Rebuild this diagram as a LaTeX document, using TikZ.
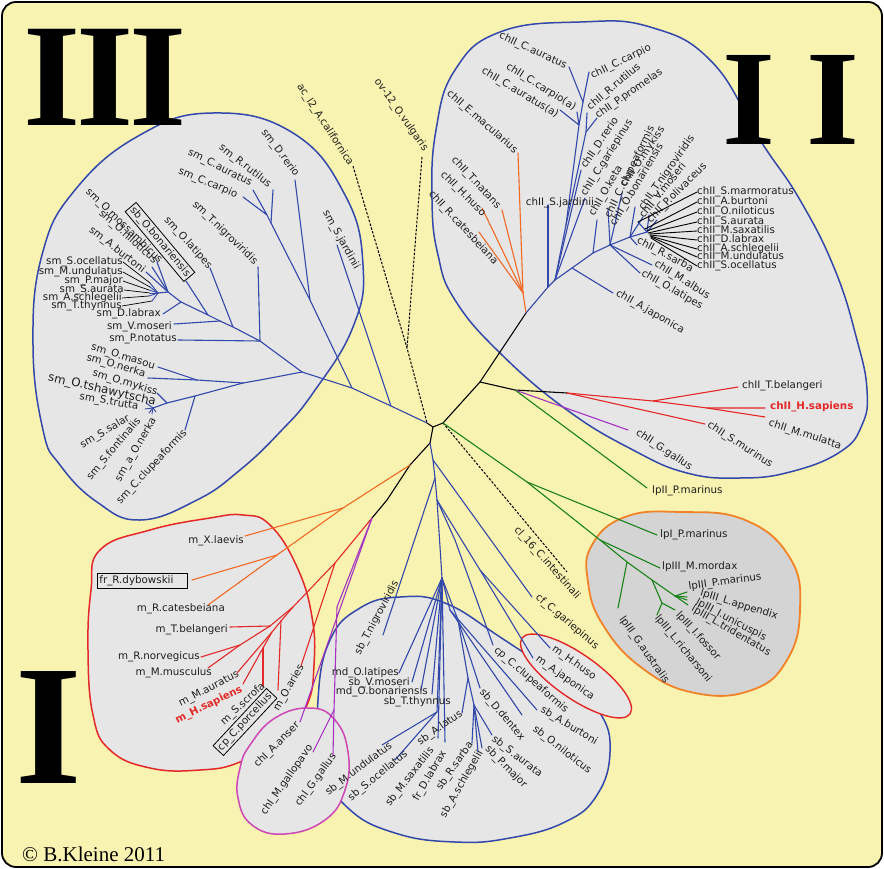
\documentclass[tikz,border=0pt]{standalone}
\usepackage{fontspec}
\setmainfont{DejaVu Sans}
\newfontfamily\numfont{Liberation Serif}
\usetikzlibrary{shapes.geometric}
\definecolor{bgy}{RGB}{249,243,177}
\definecolor{clg}{RGB}{230,230,230}
\definecolor{lpg}{RGB}{212,212,212}
\definecolor{tblue}{RGB}{50,72,170}
\definecolor{tora}{RGB}{242,105,35}
\definecolor{tred}{RGB}{228,40,40}
\definecolor{tpur}{RGB}{165,50,195}
\definecolor{tmag}{RGB}{205,70,180}
\definecolor{tgrn}{RGB}{25,130,25}
\definecolor{ocl}{RGB}{242,130,40}
\definecolor{txtc}{RGB}{30,30,30}
\newcommand\lbf{\fontsize{10.3}{12}\selectfont}
\begin{document}
\begin{tikzpicture}[x=1pt,y=-1pt,
 lb/.style={font=\lbf, text=txtc, inner sep=0pt},
 bx/.style={font=\lbf, text=txtc, draw=black, line width=0.8pt, inner sep=2pt},
 ln/.style={line width=1.1pt, line cap=round, line join=round},
 lnB/.style={ln, draw=tblue},
 lnK/.style={ln, draw=black},
 lnO/.style={ln, draw=tora},
 lnR/.style={ln, draw=tred},
 lnP/.style={ln, draw=tpur},
 lnG/.style={ln, draw=tgrn},
 lnD/.style={draw=black, line width=1pt, dash pattern=on 2.5pt off 1.5pt},
 lnL/.style={draw=black, line width=0.7pt},
 hull/.style={line width=1.5pt, fill=clg},
 numf/.style={text=black, inner sep=0pt}
]
\useasboundingbox (0,0) rectangle (884,869);
\fill[white] (0,0) rectangle (884,869);
\draw[fill=bgy, line width=1.8pt, rounded corners=14pt] (2,2) rectangle (882,867);

% ---------------- hulls
\draw[hull, draw=tblue] plot[smooth cycle, tension=0.75] coordinates {(213,113) (293,133) (345,195) (363,265) (353,327) (313,393) (280,432) (240,470) (197,500) (140,520) (97,502) (60,465) (43,430) (33,345) (42,255) (75,190) (140,135)};
\draw[hull, draw=tblue] plot[smooth cycle, tension=0.75] coordinates {(432,200) (436,130) (455,70) (500,32) (580,22) (650,27) (712,62) (760,140) (800,200) (835,270) (857,340) (867,390) (862,425) (840,452) (790,472) (740,478) (687,473) (633,450) (567,410) (500,353) (455,300) (438,255)};
\draw[hull, draw=tred] plot[smooth cycle, tension=0.75] coordinates {(100,550) (150,530) (210,518) (243,515) (270,525) (297,567) (312,617) (314,665) (307,705) (283,737) (240,762) (200,770) (150,768) (110,750) (93,715) (88,650) (91,590)};
\draw[hull, draw=tblue] plot[smooth cycle, tension=0.75] coordinates {(330,640) (360,608) (400,597) (445,603) (500,637) (567,683) (600,713) (610,752) (597,795) (565,822) (510,838) (455,842) (395,833) (348,808) (322,765) (318,700)};
\draw[hull, draw=tmag] plot[smooth cycle, tension=0.75] coordinates {(250,745) (275,718) (310,708) (335,720) (348,752) (345,790) (325,820) (285,834) (252,825) (238,798) (240,768)};
\draw[hull, draw=ocl, fill=lpg, line width=1.8pt] plot[smooth cycle, tension=0.75] coordinates {(592,545) (625,517) (680,512) (745,520) (790,558) (800,610) (787,660) (752,690) (695,693) (642,668) (603,625) (588,582)};
\node[draw=tred, fill=clg, line width=1.4pt, ellipse, minimum width=132pt, minimum height=44pt, inner sep=0pt, rotate=-35] (hjE) at (576,676) {};

% ---------------- numerals and credit
\node[numf, font=\numfont\bfseries\fontsize{147}{147}\selectfont] (n3a) at (52,77) {I};
\node[numf, font=\numfont\bfseries\fontsize{147}{147}\selectfont] (n3b) at (105,77) {I};
\node[numf, font=\numfont\bfseries\fontsize{147}{147}\selectfont] (n3c) at (158,77) {I};
\node[numf, font=\numfont\bfseries\fontsize{136}{136}\selectfont] (n2a) at (749,100) {I};
\node[numf, font=\numfont\bfseries\fontsize{136}{136}\selectfont] (n2b) at (833,100) {I};
\node[numf, font=\numfont\bfseries\fontsize{171}{171}\selectfont] (n1a) at (49,728) {I};
\node[font=\numfont\fontsize{21}{21}\selectfont, anchor=west, inner sep=0pt] (cred) at (22,854) {© B.Kleine 2011};

% ---------------- coordinates: core
\coordinate (root) at (433,427);
\coordinate (rB) at (430,443);
\coordinate (rG) at (443,423);
\coordinate (rK) at (480,382);
\coordinate (J3) at (427,423);

% cluster III
\coordinate (a1) at (391,406); \coordinate (a2) at (352,388); \coordinate (a3) at (302,372);
\coordinate (c1) at (310,300); \coordinate (c2) at (271,223); \coordinate (c3) at (267,215);
\coordinate (tDre) at (295,180); \coordinate (tRru) at (273,190); \coordinate (tCau) at (253,190); \coordinate (tCca) at (243,197);
\coordinate (tSja) at (337,245);
\coordinate (p0) at (158,293); \coordinate (p1) at (168,292); \coordinate (p2) at (181,302); \coordinate (p3) at (208,315);
\coordinate (p4) at (220,321); \coordinate (p5) at (233,327); \coordinate (p6) at (260,341);
\coordinate (tTni) at (258,267); \coordinate (tPno) at (178,340); \coordinate (tOla) at (210,268); \coordinate (tVmo) at (174,324);
\coordinate (tBon) at (186,281); \coordinate (tDla) at (163,314);
\coordinate (tOmo) at (157,262); \coordinate (tOni) at (152,267); \coordinate (tAbu) at (146,272);
\coordinate (tS1) at (150,283); \coordinate (tS2) at (150,287); \coordinate (tS3) at (149,290);
\coordinate (tS4) at (150,293); \coordinate (tS5) at (149,296); \coordinate (tS6) at (152,301);
\coordinate (sJ) at (260,380); \coordinate (sj1) at (243,383); \coordinate (jmn) at (197,380);
\coordinate (tMas) at (158,367); \coordinate (tNer) at (148,378);
\coordinate (scl) at (195,396); \coordinate (smy) at (167,403); \coordinate (str) at (153,408);
\coordinate (tClu) at (185,430); \coordinate (tMyk) at (157,393);
\coordinate (tTsh) at (146,403); \coordinate (tTru) at (145,409); \coordinate (tSal) at (149,413); \coordinate (tFon) at (152,414); \coordinate (tAne) at (156,412);
\coordinate (tAc) at (353,166); \coordinate (tOv) at (422,157); \coordinate (dj) at (407,348);

% cluster II
\coordinate (o0) at (526,313); \coordinate (oJ) at (523,293); \coordinate (sJ2) at (548,287); \coordinate (C0) at (555,280);
\coordinate (tEma) at (518,153); \coordinate (tTna) at (502,210); \coordinate (tHhu) at (482,208); \coordinate (tRca) at (479,232);
\coordinate (tSj2) at (548,205);
\coordinate (Cm) at (566,225); \coordinate (Cc) at (579,125); \coordinate (Jcc) at (583,102);
\coordinate (tCau2) at (569,67); \coordinate (tCca2) at (589,72); \coordinate (tCaua) at (560,110); \coordinate (tCcaa) at (577,112);
\coordinate (Jrp) at (586,132); \coordinate (tRru2) at (587,113); \coordinate (tPpr) at (597,118);
\coordinate (tDre2) at (581,170); \coordinate (tCga) at (585,198);
\coordinate (K1) at (572,268); \coordinate (K2) at (593,253); \coordinate (K3) at (610,245); \coordinate (K4) at (630,237); \coordinate (F) at (647,232);
\coordinate (tAja) at (613,293); \coordinate (tOke) at (597,220); \coordinate (tCcl) at (608,208); \coordinate (tOmy) at (622,193);
\coordinate (tOla2) at (640,273); \coordinate (tMal) at (652,265);
\coordinate (tObo) at (635,207); \coordinate (tTni2) at (643,217); \coordinate (tRsa) at (637,245);
\coordinate (tVmo2) at (649,215); \coordinate (tPol) at (657,220); \coordinate (fb1) at (638,222);
\coordinate (fb2) at (645,229); \coordinate (fb3) at (647,231); \coordinate (fb4) at (648,233); \coordinate (fb5) at (649,234);
\coordinate (fb6) at (650,235); \coordinate (fb7) at (650,236); \coordinate (fb8) at (651,237); \coordinate (fb9) at (651,238);
\coordinate (m0) at (567,393); \coordinate (gj) at (515,390); \coordinate (m1) at (653,401); \coordinate (m2) at (707,408);
\coordinate (tTbe) at (738,387); \coordinate (tHsa) at (765,408); \coordinate (tMmu) at (765,417); \coordinate (tSmu) at (705,424);
\coordinate (tGga) at (628,430); \coordinate (tLp2) at (647,488);

% cluster I
\coordinate (O0) at (410,465); \coordinate (bk1) at (387,500); \coordinate (PR) at (372,518);
\coordinate (O1) at (343,508); \coordinate (tXla) at (245,536); \coordinate (Odb) at (277,555); \coordinate (tRca2) at (208,605); \coordinate (tRdy) at (192,580);
\coordinate (R0) at (335,563); \coordinate (tOar) at (301,666); \coordinate (Ra) at (293,607); \coordinate (Rb) at (270,626); \coordinate (Rc) at (240,645);
\coordinate (tRno) at (201,657); \coordinate (tMmu2) at (208,668); \coordinate (tTbe2) at (230,627);
\coordinate (Rp) at (281,621); \coordinate (Rh) at (272,632); \coordinate (tMau) at (237,673); \coordinate (tCpo) at (278,690);
\coordinate (Rs) at (263,648); \coordinate (tHsa2) at (243,684); \coordinate (tSsc) at (263,686);
\coordinate (Pg) at (337,607); \coordinate (Pgg) at (334,710); \coordinate (tGga2) at (333,755); \coordinate (tMga) at (313,752); \coordinate (tAan) at (300,722);

% bottom cluster
\coordinate (N1) at (433,460); \coordinate (N2) at (435,478); \coordinate (N3) at (437,500);
\coordinate (Nhj) at (480,570); \coordinate (Ncl) at (455,540); \coordinate (Ns) at (442,578);
\coordinate (Nu) at (437,712); \coordinate (Nbn) at (450,610); \coordinate (Nsp) at (458,620); \coordinate (Nsp2) at (468,678); \coordinate (Nsp3) at (474,705);
\coordinate (tCga2) at (532,597); \coordinate (tTni3) at (383,635); \coordinate (tHhu2) at (550,648); \coordinate (tAja2) at (533,658); \coordinate (tCcl2) at (493,645);
\coordinate (tOla3) at (399,673); \coordinate (tVmo3) at (412,682); \coordinate (tObo3) at (421,690); \coordinate (tTth) at (432,694);
\coordinate (tMun) at (382,745); \coordinate (tSoc) at (395,760); \coordinate (tMsa) at (438,738); \coordinate (tDla2) at (445,742);
\coordinate (tAbu2) at (537,710); \coordinate (tOni2) at (522,715); \coordinate (tDde) at (480,688); \coordinate (tAla) at (462,713);
\coordinate (tRsa2) at (472,743); \coordinate (tAsc) at (478,752); \coordinate (tPma) at (482,748); \coordinate (tSau) at (492,735);

% lampreys
\coordinate (Lg) at (527,482); \coordinate (L0) at (600,540); \coordinate (L1) at (627,562); \coordinate (L2) at (652,580); \coordinate (L3) at (662,603); \coordinate (L4) at (675,596);
\coordinate (tLp1) at (657,535); \coordinate (tMmo) at (660,568); \coordinate (tGau) at (618,608); \coordinate (tLri) at (657,615); \coordinate (tIfo) at (675,610);
\coordinate (tPma2) at (687,592); \coordinate (tLap) at (687,597); \coordinate (tIun) at (687,600); \coordinate (tLtr) at (688,605);
\coordinate (tCin) at (567,572);

% ---------------- branches
\draw[lnK] (J3) -- (root) -- (rB) -- (O0) -- (bk1) -- (PR);
\draw[lnK] (root) -- (rG) -- (rK) -- (o0);
\draw[lnK] (rK) -- (gj) -- (m0);
\draw[lnD] (tAc) -- (dj) -- (J3);
\draw[lnD] (tOv) -- (dj);
\draw[lnD] (rG) -- (tCin);

\draw[lnB] (J3) -- (a1) -- (a2) -- (a3);
\draw[lnB] (tSja) -- (a1);
\draw[lnB] (a2) -- (c1) -- (c2) -- (c3);
\draw[lnB] (tDre) -- (c1);
\draw[lnB] (tRru) -- (c2);
\draw[lnB] (tCau) -- (c3) -- (tCca);
\draw[lnB] (a3) -- (p6) -- (p5) -- (p4) -- (p3) -- (p2) -- (p1) -- (p0);
\draw[lnB] (tTni) -- (p6) -- (tPno);
\draw[lnB] (tOla) -- (p5);
\draw[lnB] (tVmo) -- (p4);
\draw[lnB] (tBon) -- (p3);
\draw[lnB] (tDla) -- (p2);
\draw[lnB] (tOmo) -- (p1); \draw[lnB] (tOni) -- (p1); \draw[lnB] (tAbu) -- (p1);
\draw[lnB, line width=0.9pt] (tS1) -- (p0); \draw[lnB, line width=0.9pt] (tS2) -- (p0); \draw[lnB, line width=0.9pt] (tS3) -- (p0);
\draw[lnB, line width=0.9pt] (tS4) -- (p0); \draw[lnB, line width=0.9pt] (tS5) -- (p0); \draw[lnB, line width=0.9pt] (tS6) -- (p0);
\draw[lnB] (a3) -- (sJ) -- (sj1) -- (jmn) -- (tMas);
\draw[lnB] (jmn) -- (tNer);
\draw[lnB] (sj1) -- (scl) -- (smy) -- (str);
\draw[lnB] (scl) -- (tClu);
\draw[lnB] (smy) -- (tMyk);
\draw[lnB, line width=0.9pt] (str) -- (tTsh); \draw[lnB, line width=0.9pt] (str) -- (tTru); \draw[lnB, line width=0.9pt] (str) -- (tSal);
\draw[lnB, line width=0.9pt] (str) -- (tFon); \draw[lnB, line width=0.9pt] (str) -- (tAne);

\draw[lnO] (o0) -- (oJ);
\draw[lnO] (tEma) -- (oJ); \draw[lnO] (tTna) -- (oJ); \draw[lnO] (tHhu) -- (oJ); \draw[lnO] (tRca) -- (oJ);
\draw[lnB] (o0) -- (sJ2) -- (C0);
\draw[lnB] (tSj2) -- (sJ2);
\draw[lnB] (C0) -- (Cm) -- (Cc) -- (Jcc) -- (tCau2);
\draw[lnB] (Jcc) -- (tCca2);
\draw[lnB] (tCaua) -- (Cc) -- (tCcaa);
\draw[lnB] (Cm) -- (Jrp) -- (tRru2);
\draw[lnB] (Jrp) -- (tPpr);
\draw[lnB] (C0) -- (tDre2); \draw[lnB] (C0) -- (tCga);
\draw[lnB] (C0) -- (K1) -- (K2) -- (K3) -- (K4) -- (F);
\draw[lnB] (K1) -- (tAja);
\draw[lnB] (K2) -- (tOke);
\draw[lnB] (K3) -- (tCcl); \draw[lnB] (K3) -- (tOmy); \draw[lnB] (K3) -- (tOla2); \draw[lnB] (K3) -- (tMal);
\draw[lnB] (K4) -- (tObo); \draw[lnB] (K4) -- (tTni2); \draw[lnB] (K4) -- (tRsa);
\draw[lnB] (F) -- (tVmo2); \draw[lnB] (F) -- (tPol); \draw[lnB] (F) -- (fb1);
\draw[lnR] (m0) -- (m1) -- (tTbe);
\draw[lnR] (m1) -- (m2) -- (tHsa);
\draw[lnR] (m2) -- (tMmu);
\draw[lnR] (m0) -- (tSmu);
\draw[lnP] (gj) -- (tGga);
\draw[lnG] (gj) -- (tLp2);

\draw[lnO] (O0) -- (O1) -- (tXla);
\draw[lnO] (O1) -- (Odb) -- (tRca2);
\draw[lnO] (Odb) -- (tRdy);
\draw[lnR] (PR) -- (R0) -- (tOar);
\draw[lnR] (R0) -- (Ra) -- (Rb) -- (Rc) -- (tRno);
\draw[lnR] (Rc) -- (tMmu2);
\draw[lnR] (Rb) -- (tTbe2);
\draw[lnR] (Ra) -- (Rp) -- (Rh) -- (tMau);
\draw[lnR] (Rp) -- (tCpo);
\draw[lnR] (Rh) -- (Rs) -- (tHsa2);
\draw[lnR] (Rs) -- (tSsc);
\draw[lnP] (PR) -- (Pg) -- (Pgg) -- (tGga2);
\draw[lnP] (Pgg) -- (tMga);
\draw[lnP] (PR) -- (tAan);

\draw[lnB] (rB) -- (N1) -- (tCga2);
\draw[lnB] (N1) -- (N2) -- (N3);
\draw[lnB] (N2) -- (tTni3);
\draw[lnB] (N3) -- (Nhj) -- (tHhu2);
\draw[lnB] (Nhj) -- (tAja2);
\draw[lnB] (N3) -- (Ncl) -- (tCcl2);
\draw[lnB] (N3) -- (Ns);
\draw[lnB] (Ns) -- (tOla3); \draw[lnB] (Ns) -- (tVmo3); \draw[lnB] (Ns) -- (tObo3); \draw[lnB] (Ns) -- (tTth);
\draw[lnB] (Ns) -- (Nu) -- (tMun);
\draw[lnB] (Nu) -- (tSoc);
\draw[lnB] (Ns) -- (tMsa); \draw[lnB] (Ns) -- (tDla2);
\draw[lnB] (Ns) -- (Nbn) -- (tAbu2);
\draw[lnB] (Nbn) -- (tOni2);
\draw[lnB] (Ns) -- (Nsp) -- (tDde);
\draw[lnB] (Nsp) -- (Nsp2) -- (tAla);
\draw[lnB] (Nsp2) -- (Nsp3) -- (tRsa2);
\draw[lnB] (Nsp3) -- (tAsc); \draw[lnB] (Nsp3) -- (tPma); \draw[lnB] (Nsp3) -- (tSau);

\draw[lnG] (rG) -- (Lg) -- (tLp1);
\draw[lnG] (Lg) -- (L0) -- (tMmo);
\draw[lnG] (L0) -- (L1) -- (tGau);
\draw[lnG] (L1) -- (L2) -- (L3) -- (tLri);
\draw[lnG] (L3) -- (tIfo);
\draw[lnG] (L2) -- (L4) -- (tPma2);
\draw[lnG] (L4) -- (tLap); \draw[lnG] (L4) -- (tIun); \draw[lnG] (L4) -- (tLtr);

% ---------------- labels: cluster III
\node[lb, rotate=-53] (lDre) at (280,153) {sm\_D.rerio};
\node[lb, rotate=-38] (lRru) at (245,166) {sm\_R.rutilus};
\node[lb, rotate=-27] (lCau) at (220,168) {sm\_C.auratus};
\node[lb, rotate=-23] (lCca) at (208,183) {sm\_C.carpio};
\node[lb, rotate=-44] (lTni) at (225,233) {sm\_T.nigroviridis};
\node[lb, rotate=-61] (lSja) at (341,240) {sm\_S.jardinii};
\node[lb, rotate=-48] (lOla) at (188,243) {sm\_O.latipes};
\node[bx, rotate=-50] (lBon) at (160,242) {sb\_O.bonariensis};
\node[lb, rotate=-44] (lOmo) at (124,226) {sm\_O.mossambicus};
\node[lb, rotate=-42] (lOni) at (128,237) {sm\_O.niloticus};
\node[lb, rotate=-38] (lAbu) at (117,250) {sm\_A.burtoni};
\node[lb, anchor=east] (lS1) at (123,262) {sm\_S.ocellatus};
\node[lb, anchor=east] (lS2) at (123,272) {sm\_M.undulatus};
\node[lb, anchor=east] (lS3) at (123,281) {sm\_P.major};
\node[lb, anchor=east] (lS4) at (124,290) {sm\_S.aurata};
\node[lb, anchor=east] (lS5) at (122,298) {sm\_A.schlegelii};
\node[lb, anchor=east] (lS6) at (122,306) {sm\_T.thynnus};
\draw[lnL] (lS1.east) -- (tS1); \draw[lnL] (lS2.east) -- (tS2); \draw[lnL] (lS3.east) -- (tS3);
\draw[lnL] (lS4.east) -- (tS4); \draw[lnL] (lS5.east) -- (tS5); \draw[lnL] (lS6.east) -- (tS6);
\node[lb, anchor=east] (lDla) at (161,314) {sm\_D.labrax};
\node[lb, anchor=east] (lVmo) at (172,327) {sm\_V.moseri};
\node[lb, anchor=east] (lPno) at (177,339) {sm\_P.notatus};
\node[lb, rotate=-17] (lMas) at (123,357) {sm\_O.masou};
\node[lb, rotate=-16] (lNer) at (116,366) {sm\_O.nerka};
\node[lb, rotate=-17] (lMyk) at (125,383) {sm\_O.mykiss};
\node[lb, rotate=-13, font=\fontsize{11.8}{13}\selectfont] (lTsh) at (102,390) {sm\_O.tshawytscha};
\node[lb, rotate=-10] (lTru) at (109,402) {sm\_S.trutta};
\node[lb, rotate=31] (lSal) at (105,432) {sm\_S.salar};
\node[lb, rotate=50] (lFon) at (114,449) {sm\_S.fontinalis};
\node[lb, rotate=60] (lAne) at (136,450) {sm\_a\_O.nerka};
\node[lb, rotate=47] (lClu) at (152,467) {sm\_C.clupeaformis};
\node[lb, rotate=-57] (lAc) at (325,125) {ac\_l2\_A.californica};
\node[lb, rotate=-55] (lOv) at (401,115) {ov-12\_O.vulgaris};

% labels: cluster II
\node[lb, rotate=-25] (lCau2) at (533,51) {chII\_C.auratus};
\node[lb, rotate=26] (lCca2) at (621,62) {chII\_C.carpio};
\node[lb, rotate=-32] (lCcaa) at (541,87) {chII\_C.carpio(a)};
\node[lb, rotate=-31] (lCaua) at (520,93) {chII\_C.auratus(a)};
\node[lb, rotate=40] (lRru2) at (614,87) {chII\_R.rutilus};
\node[lb, rotate=35] (lPpr) at (629,94) {chII\_P.promelas};
\node[lb, rotate=56] (lDre2) at (600,143) {chII\_D.rerio};
\node[lb, rotate=58] (lCga) at (607,158) {chII\_C.gariepinus};
\node[lb, rotate=-41] (lEma) at (482,122) {chII\_E.macularius};
\node[lb, rotate=-47] (lTna) at (476,183) {chII\_T.natans};
\node[lb, rotate=-45] (lHhu) at (463,194) {chII\_H.huso};
\node[lb, rotate=-47] (lRca) at (463,228) {chII\_R.catesbeiana};
\node[lb] (lSj2) at (560,203) {chII\_S.jardinii};
\node[lb, rotate=60] (lOke) at (606,191) {chII\_O.keta};
\node[lb, rotate=64] (lCcl) at (630,172) {chII\_C.clupeaformis};
\node[lb, rotate=56] (lOmy) at (643,157) {chII\_O.mykiss};
\node[lb, rotate=59] (lObo) at (637,185) {chII\_O.bonariensis};
\node[lb, rotate=55] (lTni2) at (667,173) {chII\_T.nigroviridis};
\node[lb, rotate=51] (lVmo2) at (663,191) {chII\_V.moseri};
\node[lb, rotate=45] (lPol) at (677,193) {chII\_P.olivaceus};
\node[lb, anchor=west] (lF1) at (697,192) {chII\_S.marmoratus};
\node[lb, anchor=west] (lF2) at (697,202) {chII\_A.burtoni};
\node[lb, anchor=west] (lF3) at (697,212) {chII\_O.niloticus};
\node[lb, anchor=west] (lF4) at (697,222) {chII\_S.aurata};
\node[lb, anchor=west] (lF5) at (697,231) {chII\_M.saxatilis};
\node[lb, anchor=west] (lF6) at (697,240) {chII\_D.labrax};
\node[lb, anchor=west] (lF7) at (697,249) {chII\_A.schlegelii};
\node[lb, anchor=west] (lF8) at (697,257) {chII\_M.undulatus};
\node[lb, anchor=west] (lF9) at (697,266) {chII\_S.ocellatus};
\draw[lnK, line width=0.9pt] (fb1) -- (lF1.west); \draw[lnK, line width=0.9pt] (fb2) -- (lF2.west); \draw[lnK, line width=0.9pt] (fb3) -- (lF3.west);
\draw[lnK, line width=0.9pt] (fb4) -- (lF4.west); \draw[lnK, line width=0.9pt] (fb5) -- (lF5.west); \draw[lnK, line width=0.9pt] (fb6) -- (lF6.west);
\draw[lnK, line width=0.9pt] (fb7) -- (lF7.west); \draw[lnK, line width=0.9pt] (fb8) -- (lF8.west); \draw[lnK, line width=0.9pt] (fb9) -- (lF9.west);
\node[lb, rotate=-28] (lRsa) at (665,255) {chII\_R.sarba};
\node[lb, rotate=-32] (lMal) at (682,280) {chII\_M.albus};
\node[lb, rotate=-30] (lOla2) at (672,290) {chII\_O.latipes};
\node[lb, rotate=-30] (lAja) at (650,312) {chII\_A.japonica};
\node[lb, anchor=west] (lTbe) at (742,386) {chII\_T.belangeri};
\node[lb, anchor=west, text=tred, font=\lbf\bfseries] (lHsa) at (770,407) {chII\_H.sapiens};
\node[lb, rotate=-18] (lMmu) at (805,435) {chII\_M.mulatta};
\node[lb, rotate=-33] (lSmu) at (740,445) {chII\_S.murinus};
\node[lb, rotate=-34] (lGga) at (664,450) {chII\_G.gallus};
\node[lb, anchor=west] (lLp2) at (652,491) {lpII\_P.marinus};

% labels: cluster I
\node[lb, anchor=east] (lXla) at (244,541) {m\_X.laevis};
\node[bx, anchor=west, text width=86pt] (lRdy) at (97,581) {fr\_R.dybowskii};
\node[lb, anchor=east] (lRca2) at (225,609) {m\_R.catesbeiana};
\node[lb, anchor=east] (lTbe2) at (228,630) {m\_T.belangeri};
\node[lb, anchor=east] (lRno) at (200,657) {m\_R.norvegicus};
\node[lb, anchor=east] (lMmu2) at (212,673) {m\_M.musculus};
\node[lb, rotate=28] (lMau) at (209,689) {m\_M.auratus};
\node[lb, rotate=26, text=tred, font=\lbf\bfseries] (lHsa2) at (209,705) {m\_H.sapiens};
\node[lb, rotate=43] (lSsc) at (243,704) {m\_S.scrofa};
\node[bx, rotate=47] (lCpo) at (245,722) {cp\_C.porcellus};
\node[lb, rotate=60] (lOar) at (289,688) {m\_O.aries};
\node[lb, rotate=45] (lAan) at (277,745) {chI\_A.anser};
\node[lb, rotate=55] (lMga) at (287,780) {chI\_M.gallopavo};
\node[lb, rotate=54] (lGga2) at (316,780) {chI\_G.gallus};

% labels: bottom cluster
\node[lb, rotate=62] (lTni3) at (377,618) {sb\_T.nigroviridis};
\node[lb, anchor=east] (lOla3) at (399,673) {md\_O.latipes};
\node[lb, anchor=east] (lVmo3) at (410,683) {sb\_V.moseri};
\node[lb, anchor=east] (lObo3) at (428,692) {md\_O.bonariensis};
\node[lb, anchor=east] (lTth) at (451,702) {sb\_T.thynnus};
\node[lb, rotate=37] (lMun) at (359,769) {sb\_M.undulatus};
\node[lb, rotate=39] (lSoc) at (378,776) {sb\_S.ocellatus};
\node[lb, rotate=35] (lAla) at (440,728) {sb\_A.latus};
\node[lb, rotate=52] (lMsa) at (410,777) {sb\_M.saxatilis};
\node[lb, rotate=60] (lDla2) at (430,776) {fr\_D.labrax};
\node[lb, rotate=55] (lRsa2) at (455,766) {sb\_R.sarba};
\node[lb, rotate=60] (lAsc) at (462,784) {sb\_A.schlegelii};
\node[lb, rotate=-45] (lPma) at (506,767) {sb\_P.major};
\node[lb, rotate=-38] (lSau) at (517,757) {sb\_S.aurata};
\node[lb, rotate=-50] (lDde) at (502,715) {sb\_D.dentex};
\node[lb, rotate=-41] (lCcl2) at (531,680) {cp\_C.clupeaformis};
\node[lb, rotate=-31] (lAbu2) at (569,726) {sb\_A.burtoni};
\node[lb, rotate=-38] (lOni2) at (562,750) {sb\_O.niloticus};
\node[lb, rotate=-40] (lCga2) at (567,622) {cf\_C.gariepinus};
\node[lb, rotate=-35] (lHhu2) at (574,663) {m\_H.huso};
\node[lb, rotate=-35] (lAja2) at (565,678) {m\_A.japonica};
\node[lb, rotate=-48] (lCin) at (547,563) {cl\_16\_C.intestinali};

% labels: lampreys
\node[lb, anchor=west] (lLp1) at (660,535) {lpI\_P.marinus};
\node[lb, anchor=west] (lMmo) at (662,567) {lpIII\_M.mordax};
\node[lb, rotate=8] (lPma2) at (725,582) {lpIII\_P.marinus};
\node[lb, rotate=-17] (lLap) at (739,605) {lpIII\_L.appendix};
\node[lb, rotate=-28] (lIun) at (731,620) {lpIII\_I.unicuspis};
\node[lb, rotate=-30] (lLtr) at (731,631) {lpIII\_L.tridentatus};
\node[lb, rotate=-48] (lIfo) at (698,636) {lpIII\_I.fossor};
\node[lb, rotate=-51] (lLri) at (683,649) {lpIII\_L.richarsoni};
\node[lb, rotate=-55] (lGau) at (644,650) {lpIII\_G.australis};
\end{tikzpicture}
\end{document}
